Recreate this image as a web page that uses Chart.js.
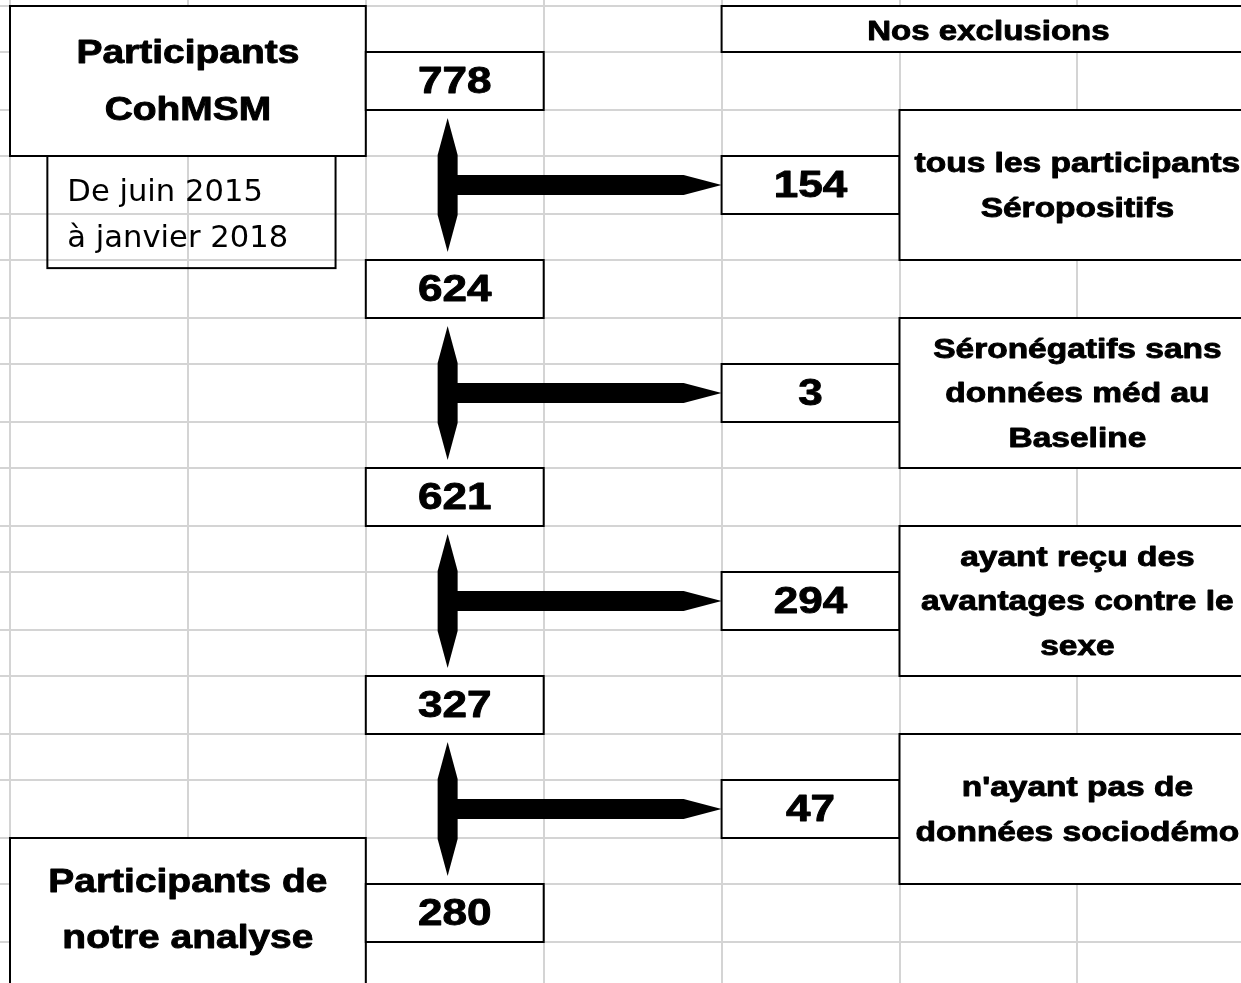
<!DOCTYPE html>
<html>
<head>
<meta charset="utf-8">
<script src="https://cdn.jsdelivr.net/npm/chart.js@4"></script>
<style>
  html, body { margin: 0; padding: 0; background: #fff; }
  #wrap { width: 1241px; height: 983px; }
</style>
</head>
<body>
<div id="wrap"><canvas id="flowChart"></canvas></div>
<script>
// flow numbers
const remaining = [778, 624, 621, 327, 280];
const excluded = [154, 3, 294, 47];
const exclusionReasons = [
    ["tous les participants", "Séropositifs"],
    ["Séronégatifs sans", "données méd au", "Baseline"],
    ["ayant reçu des", "avantages contre le", "sexe"],
    ["n'ayant pas de", "données sociodémo"]
];
const startLabel = ["Participants", "CohMSM"];
const periodLabel = ["De juin 2015", "à janvier 2018"];
const endLabel = ["Participants de", "notre analyse"];
const exclusionsTitle = "Nos exclusions";

// spreadsheet grid: columns in cell units, rows alternate 46 / 58 px
const colTicks = [0, 1, 2, 3, 4, 5, 6];
const rowEdge = r => {
    const k = Math.floor(r);
    const base = 6 + 104 * Math.floor(k / 2) + (k % 2 ? 46 : 0);
    const h = k % 2 ? 58 : 46;
    return base + (r - k) * h;
};
const rowTicks = Array.from({ length: 20 }, (_, i) => rowEdge(i));

const BOLD = '"Liberation Sans", Arial, sans-serif';

function drawText(ctx, text, x, y, font, stretch) {
    ctx.save();
    ctx.font = font;
    ctx.fillStyle = '#000';
    ctx.strokeStyle = '#000';
    ctx.lineWidth = 0.9;
    ctx.lineJoin = 'round';
    ctx.textAlign = 'center';
    ctx.textBaseline = 'middle';
    ctx.translate(x, y + 2);
    ctx.scale(stretch, 1);
    ctx.fillText(text, 0, 0);
    ctx.strokeText(text, 0, 0);
    ctx.restore();
}

const flowPlugin = {
    id: 'flow',
    beforeDraw(chart) {
        const ctx = chart.ctx;
        ctx.save();
        ctx.fillStyle = '#fff';
        ctx.fillRect(0, 0, chart.width, chart.height);
        ctx.restore();
    },
    afterDatasetsDraw(chart) {
        const ctx = chart.ctx;
        const xs = chart.scales.x, ys = chart.scales.y;
        const X = c => xs.getPixelForValue(c);
        const Y = r => ys.getPixelForValue(rowEdge(r));

        const box = (c0, c1, r0, r1, fill = true) => {
            const x0 = X(c0), x1 = X(c1), y0 = Y(r0), y1 = Y(r1);
            ctx.save();
            if (fill) {
                ctx.fillStyle = '#fff';
                ctx.fillRect(x0, y0, x1 - x0, y1 - y0);
            }
            ctx.strokeStyle = '#000';
            ctx.lineWidth = 2;
            ctx.strokeRect(x0, y0, x1 - x0, y1 - y0);
            ctx.restore();
            return { cx: (x0 + x1) / 2, cy: (y0 + y1) / 2, x0, y0 };
        };

        // arrows first, boxes on top
        ctx.save();
        ctx.fillStyle = '#000';
        excluded.forEach((v, i) => {
            const x = X(2.46);
            const yTop = Y(2 + 4 * i) + 8, yBot = Y(5 + 4 * i) - 8;
            ctx.beginPath();
            ctx.moveTo(x, yTop);
            ctx.lineTo(x + 10, yTop + 37);
            ctx.lineTo(x + 10, yBot - 37);
            ctx.lineTo(x, yBot);
            ctx.lineTo(x - 10, yBot - 37);
            ctx.lineTo(x - 10, yTop + 37);
            ctx.closePath();
            ctx.fill();

            const yc = (Y(3 + 4 * i) + Y(4 + 4 * i)) / 2;
            const tip = X(4);
            ctx.beginPath();
            ctx.moveTo(x, yc - 10);
            ctx.lineTo(tip - 38, yc - 10);
            ctx.lineTo(tip, yc);
            ctx.lineTo(tip - 38, yc + 10);
            ctx.lineTo(x, yc + 10);
            ctx.closePath();
            ctx.fill();
        });
        ctx.restore();

        // start / end boxes
        let b = box(0, 2, 0, 3);
        startLabel.forEach((t, j) => drawText(ctx, t, b.cx, b.cy - 29 + 57 * j, `bold 33px ${BOLD}`, 1.18));

        b = box(0.21, 1.83, 3, 5.14, false);
        ctx.save();
        ctx.font = '30px "DejaVu Sans", sans-serif';
        ctx.fillStyle = '#000';
        ctx.textBaseline = 'middle';
        periodLabel.forEach((t, j) => {
            ctx.save();
            ctx.translate(b.x0 + 20, b.cy - 19 + 46 * j);
            ctx.scale(1.02, 1);
            ctx.fillText(t, 0, 0);
            ctx.restore();
        });
        ctx.restore();

        b = box(0, 2, 16, 20);
        endLabel.forEach((t, j) => drawText(ctx, t, b.cx, Y(16) + 43 + 56 * j, `bold 33px ${BOLD}`, 1.18));

        b = box(4, 7, 0, 1);
        drawText(ctx, exclusionsTitle, b.cx, b.cy + 1, `bold 28px ${BOLD}`, 1.18);

        remaining.forEach((v, i) => {
            const bb = box(2, 3, 1 + 4 * i, 2 + 4 * i);
            drawText(ctx, String(v), bb.cx, bb.cy, `bold 37px ${BOLD}`, 1.19);
        });

        excluded.forEach((v, i) => {
            const bb = box(4, 5, 3 + 4 * i, 4 + 4 * i);
            drawText(ctx, String(v), bb.cx, bb.cy, `bold 37px ${BOLD}`, 1.19);
            const rb = box(5, 7, 2 + 4 * i, 5 + 4 * i);
            const lines = exclusionReasons[i];
            lines.forEach((t, j) => drawText(ctx, t, rb.cx, rb.cy + (j - (lines.length - 1) / 2) * 44.5,
                `bold 27px ${BOLD}`, 1.24));
        });
    }
};

const ctx = document.getElementById('flowChart').getContext('2d');
new Chart(ctx, {
    type: 'scatter',
    data: {
        datasets: [{
            label: 'Participants restants',
            data: remaining.map((v, i) => ({ x: 2.5, y: rowEdge(1.5 + 4 * i) })),
            pointRadius: 0
        }]
    },
    options: {
        responsive: true,
        maintainAspectRatio: false,
        animation: false,
        layout: { padding: 0 },
        plugins: {
            legend: { display: false },
            tooltip: { enabled: false }
        },
        scales: {
            x: {
                type: 'linear',
                min: -10 / 177.9,
                max: -10 / 177.9 + 1241 / 177.9,
                afterBuildTicks: scale => { scale.ticks = colTicks.map(v => ({ value: v })); },
                afterFit: scale => { scale.height = 0; },
                ticks: { display: false },
                border: { display: false },
                grid: { color: '#d4d4d4', lineWidth: 2, drawTicks: false }
            },
            y: {
                type: 'linear',
                reverse: true,
                min: 0,
                max: 983,
                afterBuildTicks: scale => { scale.ticks = rowTicks.map(v => ({ value: v })); },
                afterFit: scale => { scale.width = 0; },
                ticks: { display: false },
                border: { display: false },
                grid: { color: '#d4d4d4', lineWidth: 2, drawTicks: false }
            }
        }
    },
    plugins: [flowPlugin]
});
</script>
</body>
</html>
